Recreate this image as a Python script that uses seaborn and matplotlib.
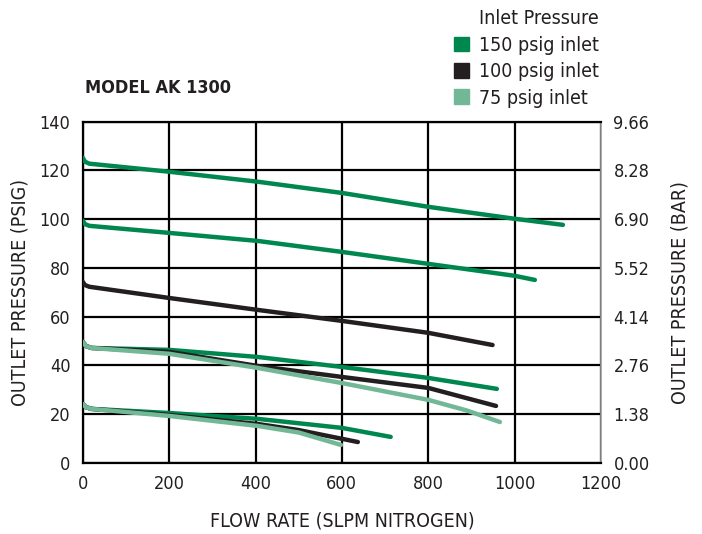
import pandas as pd
import matplotlib
matplotlib.use("Agg")
import matplotlib.pyplot as plt
import matplotlib.patches as mpatches
import seaborn as sns

# --- curve data: flow (SLPM) vs outlet pressure (psig) ---
inlet_labels = ["150 psig inlet", "100 psig inlet", "75 psig inlet"]
colors = ["#00874f", "#231f20", "#72b896"]

# 150 psig inlet curves
c150_hi_x = [0, 5, 15, 200, 405, 600, 800, 1000, 1112]
c150_hi_y = [125.2, 123.6, 122.8, 119.5, 115.4, 110.8, 105.1, 100.2, 97.7]
c150_mid_x = [0, 5, 15, 200, 405, 600, 800, 1000, 1047]
c150_mid_y = [99.4, 98.0, 97.3, 94.4, 91.1, 86.6, 81.7, 76.8, 75.1]
c150_lo_x = [0, 7, 20, 200, 405, 600, 800, 959]
c150_lo_y = [49.7, 48.0, 47.2, 46.4, 43.5, 39.4, 34.9, 30.4]
c150_min_x = [0, 7, 20, 200, 405, 600, 713]
c150_min_y = [24.2, 22.9, 22.2, 20.5, 18.1, 14.4, 10.7]

# 100 psig inlet curves
c100_hi_x = [0, 5, 15, 200, 405, 600, 800, 949]
c100_hi_y = [74.3, 73.0, 72.3, 67.7, 62.8, 58.3, 53.4, 48.4]
c100_lo_x = [0, 7, 20, 200, 405, 600, 800, 957]
c100_lo_y = [49.7, 48.0, 47.2, 45.6, 39.8, 35.3, 30.8, 23.4]
c100_min_x = [0, 7, 20, 200, 405, 500, 637]
c100_min_y = [24.2, 22.9, 22.2, 19.7, 16.0, 13.5, 8.6]

# 75 psig inlet curves
c75_lo_x = [0, 7, 20, 200, 405, 600, 800, 890, 966]
c75_lo_y = [49.7, 48.0, 47.2, 44.8, 39.0, 32.8, 25.9, 21.5, 16.8]
c75_min_x = [0, 7, 20, 200, 405, 500, 598]
c75_min_y = [24.2, 22.9, 22.2, 19.3, 15.2, 12.5, 7.4]

curves = [
    ("150 psig inlet", "150a", c150_hi_x, c150_hi_y),
    ("150 psig inlet", "150b", c150_mid_x, c150_mid_y),
    ("100 psig inlet", "100a", c100_hi_x, c100_hi_y),
    ("100 psig inlet", "100b", c100_lo_x, c100_lo_y),
    ("75 psig inlet", "75a", c75_lo_x, c75_lo_y),
    ("150 psig inlet", "150c", c150_lo_x, c150_lo_y),
    ("100 psig inlet", "100c", c100_min_x, c100_min_y),
    ("75 psig inlet", "75b", c75_min_x, c75_min_y),
    ("150 psig inlet", "150d", c150_min_x, c150_min_y),
]

rows = []
for inlet, unit, xs, ys in curves:
    for x, y in zip(xs, ys):
        rows.append({"inlet": inlet, "unit": unit, "flow": x, "psig": y})
df = pd.DataFrame(rows)

y_ticks = [0, 20, 40, 60, 80, 100, 120, 140]
bar_labels = ["0.00", "1.38", "2.76", "4.14", "5.52", "6.90", "8.28", "9.66"]
x_ticks = [0, 200, 400, 600, 800, 1000, 1200]

sns.set_style("white")
plt.rcParams["font.family"] = ["DejaVu Sans"]
plt.rcParams["font.stretch"] = "condensed"
ink = "#231f20"
plt.rcParams["text.color"] = ink
plt.rcParams["axes.labelcolor"] = ink
plt.rcParams["xtick.color"] = ink
plt.rcParams["ytick.color"] = ink

fig = plt.figure(figsize=(7.02, 5.34), dpi=100)
ax = fig.add_axes([0.118, 0.133, 0.738, 0.639])

palette = dict(zip(inlet_labels, colors))
sns.lineplot(data=df, x="flow", y="psig", hue="inlet", units="unit",
             estimator=None, sort=False, palette=palette, linewidth=3.2,
             solid_capstyle="round", legend=False, ax=ax, zorder=3)

ax.set_xlim(0, 1200)
ax.set_ylim(0, 140)
ax.set_xticks(x_ticks)
ax.set_yticks(y_ticks)
ax.grid(True, color="black", linewidth=1.6, zorder=1)
ax.set_axisbelow(True)
for side in ["left", "top", "bottom"]:
    ax.spines[side].set_color("black")
    ax.spines[side].set_linewidth(1.6)
ax.spines["right"].set_color("#999999")
ax.spines["right"].set_linewidth(1.2)
ax.tick_params(length=0, pad=9, labelsize=13)

ax.set_xlabel("FLOW RATE (SLPM NITROGEN)", fontsize=14, labelpad=13)
ax.set_ylabel("OUTLET PRESSURE (PSIG)", fontsize=14, labelpad=7)

ax2 = ax.twinx()
ax2.set_ylim(0, 140)
ax2.set_yticks(y_ticks)
ax2.set_yticklabels(bar_labels)
ax2.tick_params(length=0, pad=9, labelsize=13)
for side in ax2.spines:
    ax2.spines[side].set_visible(False)
ax2.set_ylabel("OUTLET PRESSURE (BAR)", fontsize=14, labelpad=15)

fig.text(0.121, 0.835, "MODEL AK 1300", fontsize=13, fontweight="bold",
         ha="left", va="center")

handles = [mpatches.Patch(color=c, label=l) for c, l in zip(colors, inlet_labels)]
leg = fig.legend(handles=handles, title="Inlet Pressure", loc="upper left",
                 bbox_to_anchor=(0.627, 1.008), frameon=False, fontsize=14,
                 title_fontsize=14, handlelength=0.8, handleheight=0.8,
                 handletextpad=0.5, labelspacing=0.38, borderaxespad=0.3)
leg._legend_box.align = "right"

fig.savefig("out.png", dpi=100)
